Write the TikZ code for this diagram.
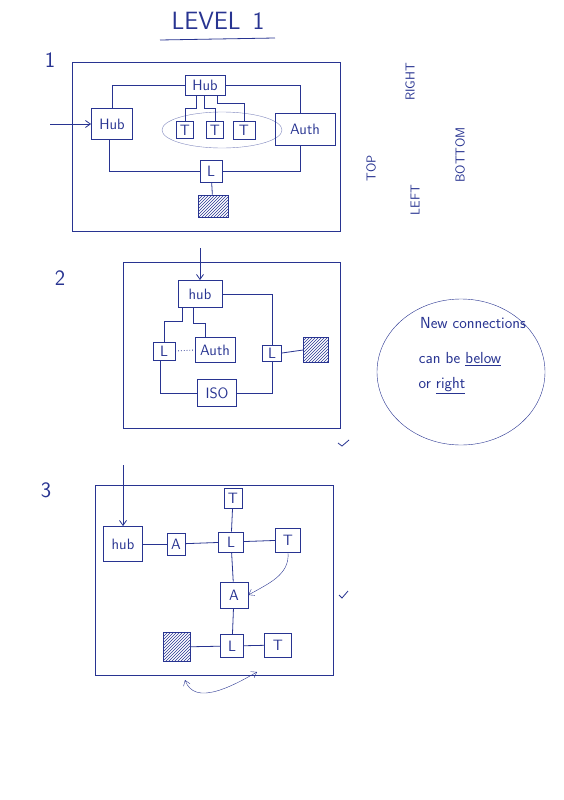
\documentclass[tikz,border=0pt]{standalone}
\usepackage{tikz}
\usetikzlibrary{positioning,arrows.meta,patterns}
\usepackage{xcolor}
\definecolor{ink}{RGB}{40,52,145}
\newcommand\lbl{\sffamily\fontsize{15}{17}\selectfont}
\newcommand\sidefont{\sffamily\fontsize{13}{15}\selectfont}
\newcommand\hdr{\sffamily\fontsize{22}{24}\selectfont}
\newcommand\notefont{\sffamily\fontsize{16}{18}\selectfont}

\begin{document}
\begin{tikzpicture}[x=1pt,y=-1pt,line width=0.8pt,ink,>={Straight Barb[length=5pt,width=7pt]},
  box/.style 2 args={draw=ink,font=\lbl,inner sep=1pt,minimum width=#1,minimum height=#2},
  hatch/.style={pattern=north east lines,pattern color=ink},
  side/.style={font=\sidefont,rotate=90}]
\useasboundingbox (0,0) rectangle (563,800);
\node[font=\hdr\fontsize{25}{27}\selectfont] (title) at (218,21) {LEVEL\hspace{12pt}1};
\draw (160,40) -- (275,38);
\node[font=\hdr] (n1) at (50,60) {1};
\node[font=\hdr] (n2) at (60,278) {2};
\node[font=\hdr] (n3) at (46,490) {3};
\draw (72,62) rectangle (340,231);
\draw[thin,ink!60] (222,130) ellipse [x radius=60, y radius=18];
\node[box={40}{20}] (hubA) at (205,85) {Hub};
\node[box={41}{31}] (hubB) at (112,124) {Hub};
\node[box={60}{32}] (auth1) at (305,129) {Auth};
\node[box={17}{17}] (t1) at (185,130) {T};
\node[box={17}{17}] (t2) at (215,130) {T};
\node[box={22}{18}] (t3) at (244,130) {T};
\node[box={22}{22}] (l1) at (211,171) {L};
\node[box={30}{22},hatch] (sq1) at (213,206) {};
\coordinate (in1) at (50,124);
\draw[->] (in1) -- (hubB.west);
\draw (hubA.west) -| (hubB.north);
\draw (hubA.east) -| ([xshift=-5pt]auth1.north);
\draw ([xshift=-9pt]hubA.south) -- ++(0,13) -| (t1.north);
\draw ([xshift=-1pt]hubA.south) -- ++(0,13) -| (t2.north);
\draw ([xshift=12pt]hubA.south) -- ++(0,8) -| (t3.north);
\draw ([xshift=-3pt]hubB.south) |- (l1.west);
\draw (l1.east) -| ([xshift=-5pt]auth1.south);
\draw (l1) -- (sq1);
\node[side] (top) at (371,168) {TOP};
\node[side] (left) at (415,200) {LEFT};
\node[side] (right) at (410,82) {RIGHT};
\node[side] (bottom) at (460,155) {BOTTOM};
\draw (123,262) rectangle (340,428);
\node[box={44}{27}] (hub2) at (200,294) {hub};
\node[box={22}{18}] (la) at (164,351) {L};
\node[box={40}{25}] (auth2) at (215,350) {Auth};
\node[box={19}{16}] (lb) at (272,353) {L};
\node[box={25}{25},hatch] (sq2) at (316,350) {};
\node[box={39}{27}] (iso) at (217,393) {ISO};
\coordinate (in2) at (200,248);
\draw[->] (in2) -- (hub2.north);
\draw ([xshift=-18pt]hub2.south) -- ++(0,13) -| (la.north);
\draw ([xshift=-7pt]hub2.south) -- ++(0,15) -| ([xshift=-10pt]auth2.north);
\draw (hub2.east) -| (lb.north);
\draw[dotted] (la.east) -- (auth2.west);
\draw (lb.east) -- (sq2.west);
\draw ([xshift=-4pt]la.south) |- (iso.west);
\draw (iso.east) -| (lb.south);
\draw (338,443) -- (342,446) -- (349,440);
\draw[thin] (461,372) ellipse [x radius=84, y radius=73];
\node[font=\notefont] (note1) at (473,323) {New connections};
\node[font=\notefont] (note2) at (460,359) {can be \underline{below}};
\node[font=\notefont] (note3) at (442,386) {or \underline{right}};
\draw (95,485) rectangle (333,675);
\node[box={39}{35}] (hub3) at (123,544) {hub};
\node[box={18}{22}] (a1) at (176,544) {A};
\node[box={25}{20}] (lt) at (231,542) {L};
\node[box={18}{20}] (tt) at (233,498) {T};
\node[box={25}{24}] (tr) at (288,540) {T};
\node[box={28}{26}] (am) at (234,595) {A};
\node[box={23}{23}] (lbt) at (232,646) {L};
\node[box={27}{24}] (tbt) at (278,645) {T};
\node[box={27}{29},hatch] (sq3) at (177,647) {};
\coordinate (in3) at (123,465);
\draw[->] (in3) -- (hub3.north);
\draw (hub3) -- (a1);
\draw (a1) -- (lt);
\draw (lt) -- (tr);
\draw (tt) -- (lt);
\draw (lt) -- (am);
\draw (am) -- (lbt);
\draw (lbt) -- (tbt);
\draw (sq3) -- (lbt);
\draw[thin,->] (tr.south) to[out=-85,in=30] (am.east);
\coordinate (sw1) at (185,680);
\coordinate (sw2) at (257,672);
\draw[thin,<->] (sw1) to[out=-70,in=-150] (sw2);
\draw (339,595) -- (342,598) -- (348,591);
\end{tikzpicture}
\end{document}
